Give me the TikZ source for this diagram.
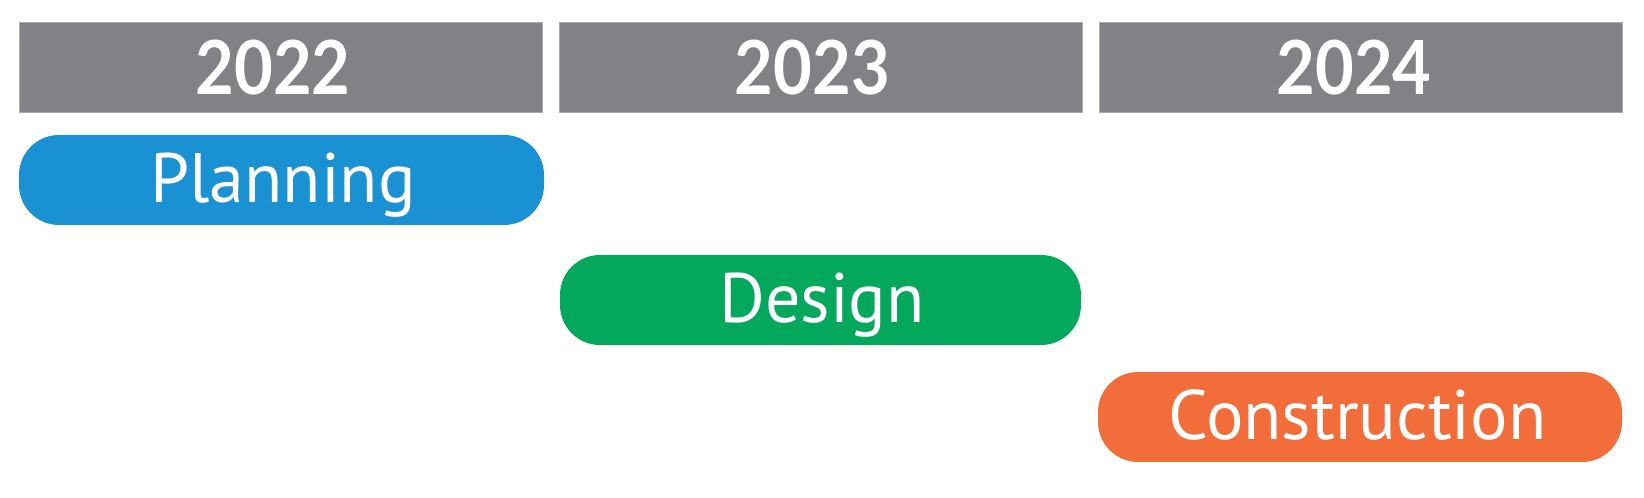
\documentclass[tikz,border=0pt]{standalone}
\usepackage{graphicx}
\usepackage{fontspec}
\setmainfont{PT Sans}
\newfontfamily\yearfont{Lato Bold}
\newfontfamily\phasefont{PT Sans}
\newcommand\yearlabel[1]{\resizebox{155pt}{54.5pt}{\yearfont #1}}
\definecolor{hdrgray}{HTML}{818285}
\definecolor{hdredge}{HTML}{A9AAAC}
\definecolor{planblue}{HTML}{1A91D2}
\definecolor{desgreen}{HTML}{03A85D}
\definecolor{conorange}{HTML}{F36D3A}
\begin{document}
\begin{tikzpicture}[x=1pt,y=1pt,
  yearbox/.style={fill=hdrgray,draw=hdredge,line width=1pt},
  pill/.style={rounded corners=40pt},
  yeartext/.style={text=white,anchor=base,inner sep=0pt},
  phasetext/.style={text=white,font=\phasefont\fontsize{70}{72}\selectfont,anchor=base,inner sep=0pt}]
\useasboundingbox (0,0) rectangle (1644,498);
% header boxes
\draw[yearbox] (19,385) rectangle (542,475);
\draw[yearbox] (559,385) rectangle (1082,475);
\draw[yearbox] (1099,385) rectangle (1622,475);
\node[yeartext] (y22) at (273,403.5) {\yearlabel{2022}};
\node[yeartext] (y23) at (812.5,403.5) {\yearlabel{2023}};
\node[yeartext] (y24) at (1354,403.5) {\yearlabel{2024}};
% phase pills
\fill[planblue,pill] (19,273) rectangle (544,363);
\fill[desgreen,pill] (560,153) rectangle (1081,243);
\fill[conorange,pill] (1098,36) rectangle (1622,126);
\node[phasetext] (plan) at (283,295.5) {Planning};
\node[phasetext] (des) at (822,175) {Design};
\node[phasetext] (con) at (1357.5,58) {Construction};
\end{tikzpicture}
\end{document}
